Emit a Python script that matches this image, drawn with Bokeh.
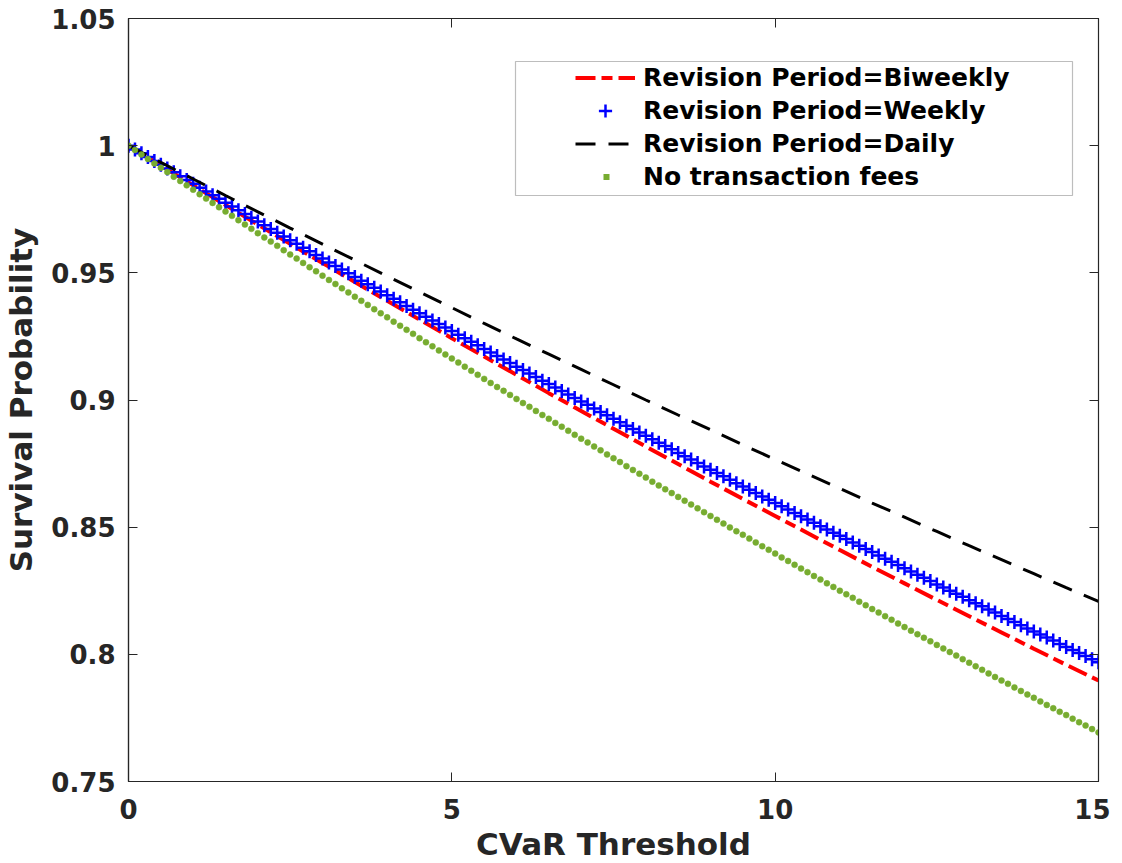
from bokeh.plotting import figure
from bokeh.models import (Range1d, FixedTicker, LinearAxis, Legend, LegendItem,
                          BoxAnnotation, CustomJSTickFormatter)
from bokeh.embed import file_html
from bokeh.resources import INLINE

# ---------------- data ----------------
# fine grid (step 0.1) used by the marker series
x_fine = [i / 10 for i in range(151)]

weekly = [
    1.0000, 0.9985, 0.9970, 0.9955, 0.9940, 0.9925, 0.9910, 0.9895, 0.9880, 0.9865,
    0.9850, 0.9835, 0.9820, 0.9805, 0.9791, 0.9776, 0.9761, 0.9746, 0.9731, 0.9717,
    0.9702, 0.9687, 0.9672, 0.9658, 0.9643, 0.9628, 0.9614, 0.9599, 0.9585, 0.9570,
    0.9556, 0.9541, 0.9527, 0.9513, 0.9498, 0.9484, 0.9469, 0.9455, 0.9441, 0.9427,
    0.9412, 0.9398, 0.9384, 0.9370, 0.9355, 0.9341, 0.9327, 0.9313, 0.9299, 0.9285,
    0.9271, 0.9257, 0.9243, 0.9229, 0.9215, 0.9201, 0.9187, 0.9173, 0.9159, 0.9145,
    0.9131, 0.9118, 0.9104, 0.9090, 0.9076, 0.9063, 0.9049, 0.9035, 0.9022, 0.9008,
    0.8994, 0.8981, 0.8967, 0.8953, 0.8940, 0.8926, 0.8913, 0.8899, 0.8886, 0.8872,
    0.8859, 0.8846, 0.8832, 0.8819, 0.8806, 0.8792, 0.8779, 0.8766, 0.8752, 0.8739,
    0.8726, 0.8713, 0.8700, 0.8686, 0.8673, 0.8660, 0.8647, 0.8634, 0.8621, 0.8608,
    0.8595, 0.8582, 0.8569, 0.8556, 0.8543, 0.8530, 0.8517, 0.8504, 0.8491, 0.8478,
    0.8466, 0.8453, 0.8440, 0.8427, 0.8414, 0.8402, 0.8389, 0.8376, 0.8364, 0.8351,
    0.8338, 0.8326, 0.8313, 0.8301, 0.8288, 0.8275, 0.8263, 0.8250, 0.8238, 0.8226,
    0.8213, 0.8201, 0.8189, 0.8176, 0.8164, 0.8151, 0.8139, 0.8127, 0.8114, 0.8102,
    0.8090, 0.8078, 0.8066, 0.8054, 0.8041, 0.8029, 0.8017, 0.8005, 0.7993, 0.7981,
    0.7969,
]

no_fees = [
    1.0000, 0.9983, 0.9965, 0.9948, 0.9930, 0.9913, 0.9896, 0.9878, 0.9861, 0.9844,
    0.9827, 0.9809, 0.9792, 0.9775, 0.9758, 0.9741, 0.9724, 0.9707, 0.9690, 0.9673,
    0.9656, 0.9639, 0.9623, 0.9606, 0.9589, 0.9572, 0.9556, 0.9539, 0.9522, 0.9506,
    0.9489, 0.9472, 0.9456, 0.9439, 0.9423, 0.9406, 0.9390, 0.9374, 0.9357, 0.9341,
    0.9325, 0.9308, 0.9292, 0.9276, 0.9260, 0.9243, 0.9227, 0.9211, 0.9195, 0.9179,
    0.9163, 0.9147, 0.9131, 0.9115, 0.9099, 0.9083, 0.9067, 0.9051, 0.9036, 0.9020,
    0.9004, 0.8988, 0.8973, 0.8957, 0.8941, 0.8926, 0.8910, 0.8895, 0.8879, 0.8863,
    0.8848, 0.8833, 0.8817, 0.8802, 0.8786, 0.8771, 0.8756, 0.8740, 0.8725, 0.8710,
    0.8695, 0.8679, 0.8664, 0.8649, 0.8634, 0.8619, 0.8604, 0.8589, 0.8574, 0.8559,
    0.8544, 0.8529, 0.8514, 0.8499, 0.8484, 0.8470, 0.8455, 0.8440, 0.8425, 0.8411,
    0.8396, 0.8381, 0.8367, 0.8352, 0.8337, 0.8323, 0.8308, 0.8294, 0.8279, 0.8265,
    0.8250, 0.8236, 0.8222, 0.8207, 0.8193, 0.8178, 0.8164, 0.8150, 0.8136, 0.8121,
    0.8107, 0.8093, 0.8079, 0.8065, 0.8051, 0.8037, 0.8023, 0.8009, 0.7995, 0.7981,
    0.7967, 0.7953, 0.7939, 0.7925, 0.7911, 0.7897, 0.7884, 0.7870, 0.7856, 0.7842,
    0.7829, 0.7815, 0.7801, 0.7788, 0.7774, 0.7761, 0.7747, 0.7733, 0.7720, 0.7706,
    0.7693,
]

# coarser grid (step 0.5) for the two line-only series
x_line = [i / 2 for i in range(31)]

biweekly = [
    1.0000, 0.9922, 0.9844, 0.9767, 0.9690, 0.9614, 0.9539, 0.9464, 0.9390, 0.9316,
    0.9243, 0.9171, 0.9099, 0.9027, 0.8957, 0.8887, 0.8817, 0.8748, 0.8679, 0.8611,
    0.8544, 0.8477, 0.8410, 0.8344, 0.8279, 0.8214, 0.8150, 0.8086, 0.8022, 0.7959,
    0.7897,
]

daily = [
    1.0000, 0.9934, 0.9869, 0.9804, 0.9740, 0.9676, 0.9613, 0.9550, 0.9487, 0.9425,
    0.9363, 0.9301, 0.9240, 0.9180, 0.9120, 0.9060, 0.9000, 0.8941, 0.8883, 0.8824,
    0.8766, 0.8709, 0.8652, 0.8595, 0.8539, 0.8483, 0.8427, 0.8372, 0.8317, 0.8262,
    0.8208,
]

x_ticks = [0, 5, 10, 15]
y_ticks = [0.75, 0.8, 0.85, 0.9, 0.95, 1.0, 1.05]
labels = ["Revision Period=Biweekly", "Revision Period=Weekly",
          "Revision Period=Daily", "No transaction fees"]

# ---------------- figure ----------------
FONT = "DejaVu Sans"
AX = "#262626"

p = figure(frame_width=970, frame_height=763, output_backend="svg",
           toolbar_location=None, x_range=Range1d(0, 15), y_range=Range1d(0.75, 1.05),
           min_border_left=126, min_border_right=12, min_border_top=18,
           min_border_bottom=10)
p.background_fill_color = "white"
p.border_fill_color = "white"
p.outline_line_color = AX
p.outline_line_width = 1.2
p.xgrid.visible = False
p.ygrid.visible = False

for ax in (p.xaxis[0], p.yaxis[0]):
    ax.axis_line_color = AX
    ax.axis_line_width = 1.2
    ax.major_tick_in = 9
    ax.major_tick_out = 0
    ax.major_tick_line_color = AX
    ax.minor_tick_line_color = None
    ax.major_label_text_font = FONT
    ax.major_label_text_font_style = "bold"
    ax.major_label_text_font_size = "26px"
    ax.major_label_text_color = AX
    ax.axis_label_text_font = FONT
    ax.axis_label_text_font_style = "bold"
    ax.axis_label_text_font_size = "31px"
    ax.axis_label_text_color = AX

p.xaxis[0].ticker = FixedTicker(ticks=x_ticks)
p.yaxis[0].ticker = FixedTicker(ticks=y_ticks)
p.xaxis[0].axis_label = "CVaR Threshold"
p.yaxis[0].axis_label = "Survival Probability"
p.xaxis[0].major_label_standoff = 17
p.xaxis[0].axis_label_standoff = 4
p.yaxis[0].major_label_standoff = 13
p.yaxis[0].axis_label_standoff = 9

blank = CustomJSTickFormatter(code="return ''")
top_ax = LinearAxis(ticker=FixedTicker(ticks=x_ticks), formatter=blank,
                    major_tick_in=9, major_tick_out=0, minor_tick_line_color=None,
                    axis_line_color=AX, major_tick_line_color=AX,
                    major_label_standoff=0, major_label_text_font_size="1px")
right_ax = LinearAxis(ticker=FixedTicker(ticks=y_ticks), formatter=blank,
                      major_tick_in=9, major_tick_out=0, minor_tick_line_color=None,
                      axis_line_color=AX, major_tick_line_color=AX,
                      major_label_standoff=0, major_label_text_font_size="1px")
p.add_layout(top_ax, "above")
p.add_layout(right_ax, "right")

# ---------------- series ----------------
r_bi = p.line(x_line, biweekly, line_color="#FF0000", line_width=4,
              line_dash="20 6 11 6", line_cap="butt")
r_wk = p.scatter(x_fine, weekly, marker="cross", size=14, line_color="#0000FF",
                 line_width=2.5)
r_dy = p.line(x_line, daily, line_color="black", line_width=3,
              line_dash="20 13", line_cap="butt")
r_nf = p.scatter(x_fine, no_fees, marker="circle", size=6, fill_color="#77AC30",
                 line_color="#77AC30", line_width=0.5)

# legend proxy for the small green square: a dash pattern that shows only a
# short 6px segment in the middle of the legend glyph (nothing in the plot)
r_nf_leg = p.line(x_fine[:2], no_fees[:2], line_color="#77AC30", line_width=6,
                  line_dash="0 28 6 60", line_cap="butt")

# legend frame
frame_box = BoxAnnotation(left=387, right=944, top=720, bottom=586,
                          left_units="screen", right_units="screen",
                          top_units="screen", bottom_units="screen",
                          fill_color="white", fill_alpha=1.0,
                          line_color=AX, line_width=1.2)
p.add_layout(frame_box)

legend = Legend(items=[LegendItem(label=labels[0], renderers=[r_bi]),
                       LegendItem(label=labels[1], renderers=[r_wk]),
                       LegendItem(label=labels[2], renderers=[r_dy]),
                       LegendItem(label=labels[3], renderers=[r_nf_leg])],
                location=(447, 588), padding=0, margin=0, spacing=0,
                label_height=33, glyph_height=33, glyph_width=60, label_standoff=8,
                border_line_alpha=0, background_fill_alpha=0,
                label_text_font=FONT, label_text_font_style="bold",
                label_text_font_size="25px", label_text_color="black")
p.add_layout(legend)

open("out.html", "w").write(file_html(p, INLINE))
